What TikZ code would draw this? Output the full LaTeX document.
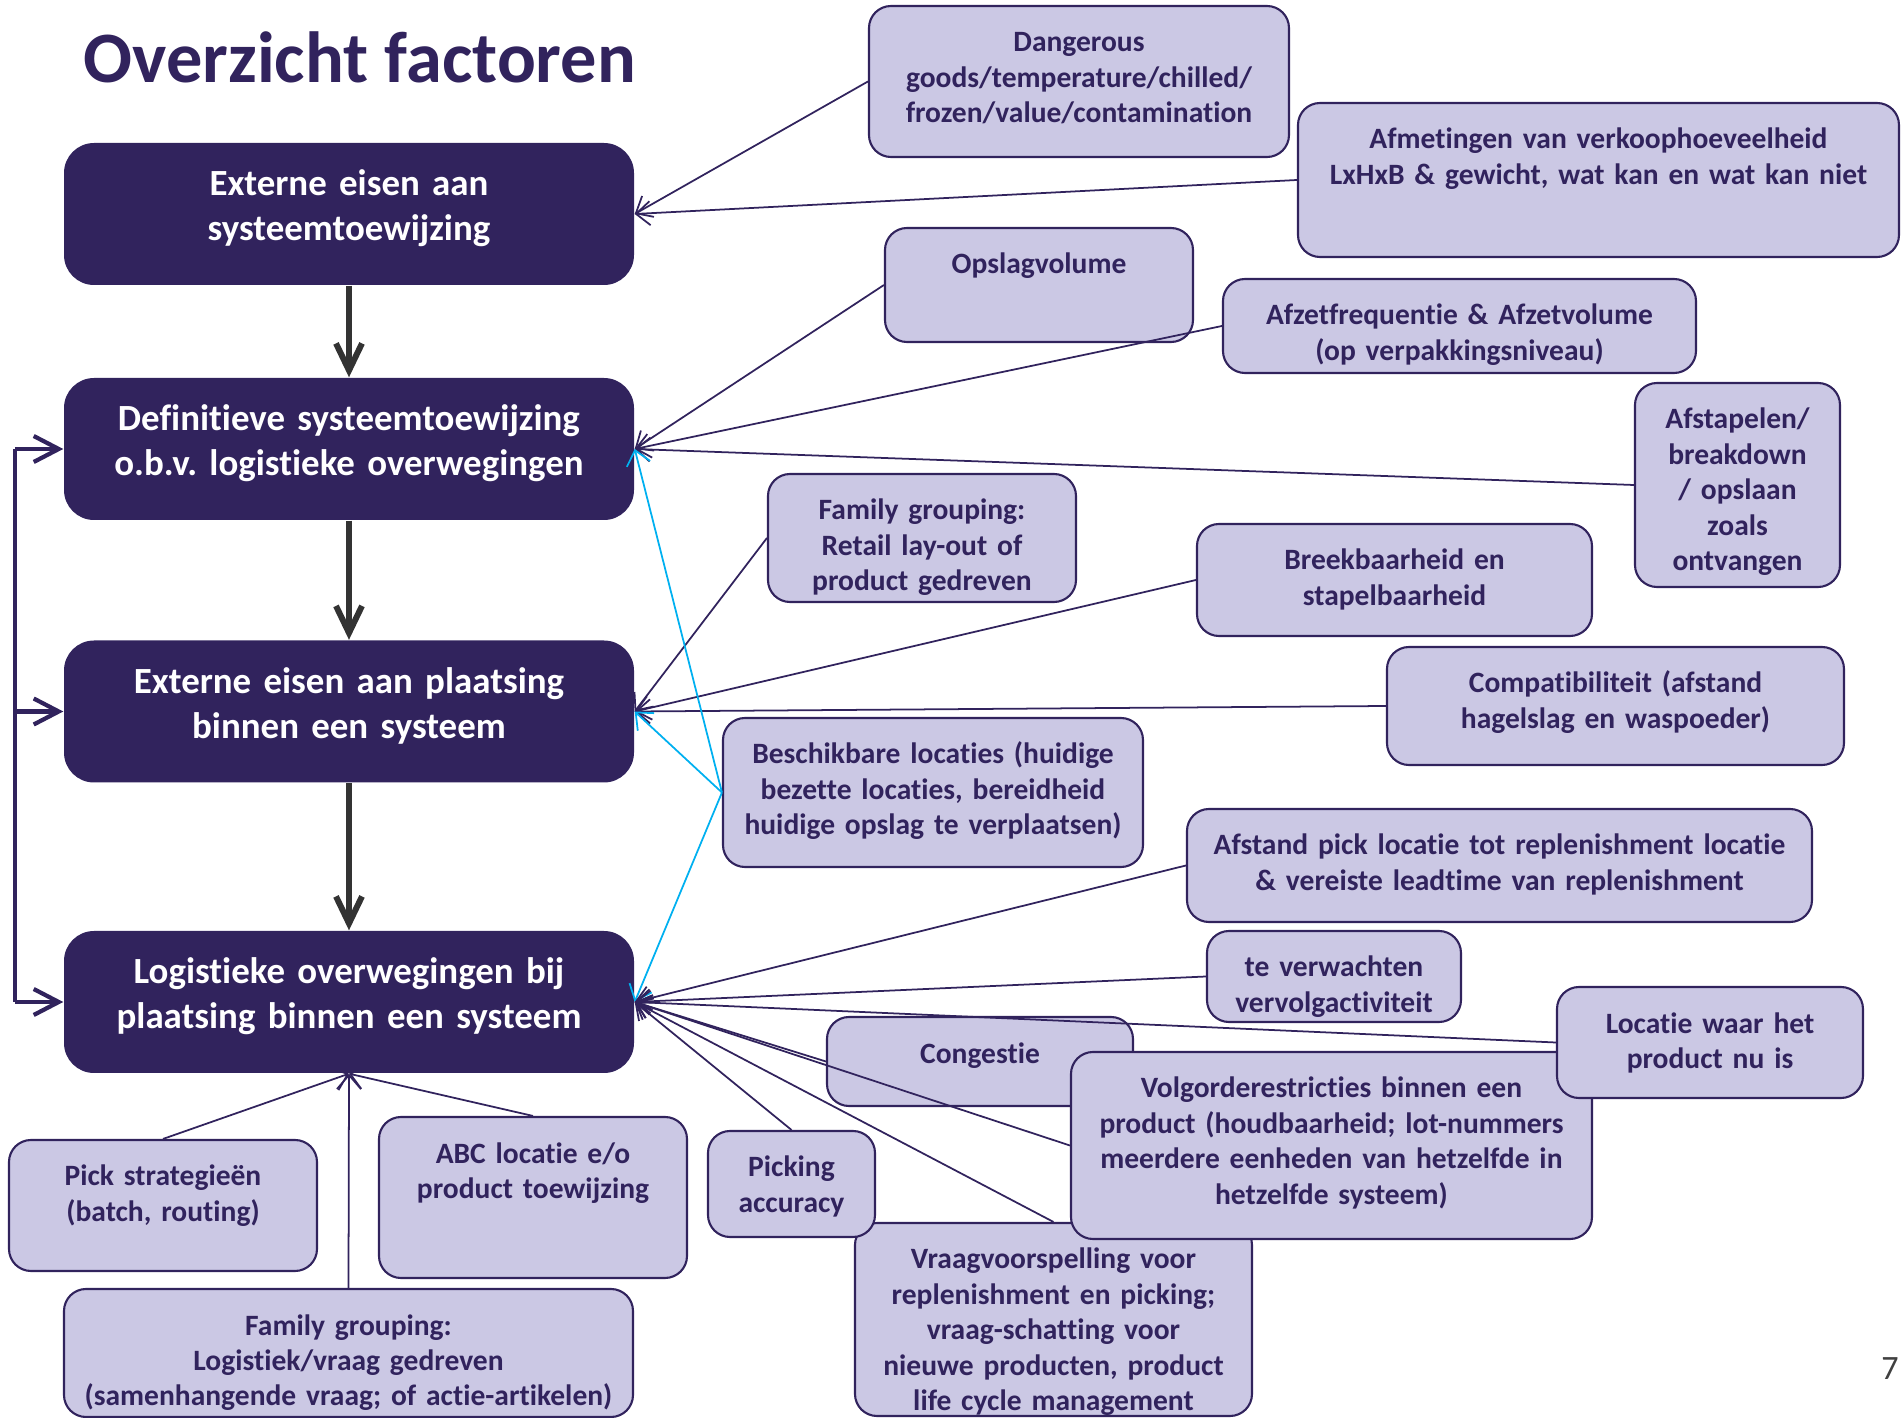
\documentclass[tikz,border=0pt]{standalone}
\usepackage{fontspec}
\setmainfont{Carlito}[Ligatures=NoCommon]
\frenchspacing
\usetikzlibrary{arrows.meta}

\definecolor{darkpurple}{HTML}{31235D}
\definecolor{lavender}{HTML}{CBC8E4}
\definecolor{linkblue}{HTML}{00B0F0}
\definecolor{flowgray}{HTML}{333333}

\begin{document}
\begin{tikzpicture}[
    mainbox/.style={rectangle, rounded corners=0.3cm, fill=darkpurple, text=white, font=\fontsize{10.5}{12.8}\selectfont\bfseries, align=center, text width=5.5cm, text height=0.28cm, text depth=0.64cm, inner xsep=0.1cm, inner ysep=0.25cm},
    factor/.style={rectangle, rounded corners=0.22cm, fill=lavender, draw=darkpurple, line width=0.6pt, text=darkpurple, font=\fontsize{8.4}{10.1}\selectfont\bfseries, align=center, text height=0.25cm, inner xsep=0.1cm, inner ysep=0.21cm},
    flow/.style={draw=flowgray, line width=1.7pt, -{Straight Barb[length=2.7mm, width=2.6mm]}},
    loopline/.style={draw=darkpurple, line width=1.2pt},
    looparrow/.style={loopline, -{Straight Barb[length=2.5mm, width=2.6mm]}},
    link/.style={draw=darkpurple, line width=0.5pt, -{Straight Barb[length=1.4mm, width=2.4mm]}},
    bluelink/.style={link, draw=linkblue}
]
\useasboundingbox (0,0) rectangle (19.01,-14.18);

% Titel
\node[anchor=base west, inner sep=0pt, text=darkpurple, font=\fontsize{20.6}{24}\selectfont\bfseries] (title) at (0.83,-0.83) {Overzicht factoren};

% Hoofdstappen
\node[mainbox] (b1) at (3.49,-2.14) {Externe eisen aan\\systeemtoewijzing};
\node[mainbox] (b2) at (3.49,-4.49) {Definitieve systeemtoewijzing\\o.b.v. logistieke overwegingen};
\node[mainbox] (b3) at (3.49,-7.115) {Externe eisen aan plaatsing\\binnen een systeem};
\node[mainbox] (b4) at (3.49,-10.02) {Logistieke overwegingen bij\\plaatsing binnen een systeem};

% Factoren
\node[factor, text width=4.00cm, text depth=0.84cm] (dangerous) at (10.79,-0.815) {Dangerous\\goods/temperature/chilled/\\frozen/value/contamination};
\node[factor, text width=5.81cm, text depth=0.87cm] (afmetingen) at (15.985,-1.80) {Afmetingen van verkoophoeveelheid\\LxHxB \& gewicht, wat kan en wat kan niet};
\node[factor, text width=2.88cm, text depth=0.47cm] (opslag) at (10.39,-2.85) {Opslagvolume};
\node[factor, text width=4.53cm, text depth=0.27cm] (afzet) at (14.595,-3.26) {Afzetfrequentie \& Afzetvolume\\(op verpakkingsniveau)};
\node[factor, text width=1.85cm, text depth=1.37cm] (afstapelen) at (17.375,-4.85) {Afstapelen/\\breakdown\\/ opslaan\\zoals\\ontvangen};
\node[factor, text width=2.88cm, text depth=0.61cm] (retail) at (9.22,-5.38) {Family grouping:\\Retail lay-out of\\product gedreven};
\node[factor, text width=3.75cm, text depth=0.45cm] (breek) at (13.945,-5.80) {Breekbaarheid en\\stapelbaarheid};
\node[factor, text width=4.37cm, text depth=0.51cm] (compat) at (16.155,-7.06) {Compatibiliteit (afstand\\hagelslag en waspoeder)};
\node[factor, text width=4.00cm, text depth=0.82cm] (beschikbaar) at (9.33,-7.925) {Beschikbare locaties (huidige\\bezette locaties, bereidheid\\huidige opslag te verplaatsen)};
\node[factor, text width=6.05cm, text depth=0.46cm] (afstand) at (14.995,-8.655) {Afstand pick locatie tot replenishment locatie\\\& vereiste leadtime van replenishment};
\node[factor, text width=2.34cm, text depth=0.24cm] (vervolg) at (13.34,-9.765) {te verwachten\\vervolgactiviteit};
\node[factor, text width=3.77cm, text depth=1.26cm] (vraag) at (10.535,-13.195) {Vraagvoorspelling voor\\replenishment en picking;\\vraag-schatting voor\\nieuwe producten, product\\life cycle management};
\node[factor, text width=1.47cm, text depth=0.39cm] (picking) at (7.915,-11.84) {Picking\\accuracy};
\node[factor, text width=2.86cm, text depth=0.22cm] (congestie) at (9.80,-10.615) {Congestie};
\node[factor, text width=5.01cm, text depth=1.20cm] (volgorde) at (13.315,-11.455) {Volgorderestricties binnen een\\product (houdbaarheid; lot-nummers\\meerdere eenheden van hetzelfde in\\hetzelfde systeem)};
\node[factor, text width=2.86cm, text depth=0.44cm] (locatie) at (17.10,-10.425) {Locatie waar het\\product nu is};
\node[factor, text width=2.88cm, text depth=0.64cm] (pickstrat) at (1.63,-12.055) {Pick strategieën\\(batch, routing)};
\node[factor, text width=2.88cm, text depth=0.94cm] (abc) at (5.33,-11.975) {ABC locatie e/o\\product toewijzing};
\node[factor, text width=5.49cm, text depth=0.61cm] (familylog) at (3.485,-13.53) {Family grouping:\\Logistiek/vraag gedreven\\(samenhangende vraag; of actie-artikelen)};

% Paginanummer
\node[text=black!75, font=\fontsize{9.7}{11}\selectfont] (pagenum) at (18.90,-13.69) {7};

% Pijlen tussen de hoofdstappen
\draw[flow] (b1.south) -- (b2.north);
\draw[flow] (b2.south) -- (b3.north);
\draw[flow] (b3.south) -- (b4.north);

% Terugkoppeling links
\coordinate (rail) at (0.15,0);
\draw[loopline] (b2.west -| rail) -- (b4.west -| rail);
\draw[looparrow] (b2.west -| rail) -- (b2.west);
\draw[looparrow] (b3.west -| rail) -- (b3.west);
\draw[looparrow] (b4.west -| rail) -- (b4.west);

% Verbindingen factoren
\draw[link] (dangerous.west) -- (b1.east);
\draw[link] (afmetingen.west) -- (b1.east);
\draw[link] (opslag.west) -- (b2.east);
\draw[link] (afzet.west) -- (b2.east);
\draw[link] (afstapelen.west) -- (b2.east);
\draw[link] (retail.west) -- (b3.east);
\draw[link] (breek.west) -- (b3.east);
\draw[link] (compat.west) -- (b3.east);
\draw[bluelink] (beschikbaar.west) -- (b2.east);
\draw[bluelink] (beschikbaar.west) -- (b3.east);
\draw[bluelink] (beschikbaar.west) -- (b4.east);
\draw[link] (afstand.west) -- (b4.east);
\draw[link] (vervolg.west) -- (b4.east);
\draw[link] (locatie.west) -- (b4.east);
\draw[link] (congestie.west) -- (b4.east);
\draw[link] (volgorde.west) -- (b4.east);
\draw[link] (picking.north) -- (b4.east);
\draw[link] (vraag.north) -- (b4.east);
\draw[link] (pickstrat.north) -- (b4.south);
\draw[link] (abc.north) -- (b4.south);
\draw[link] (familylog.north) -- (b4.south);

\end{tikzpicture}
\end{document}
